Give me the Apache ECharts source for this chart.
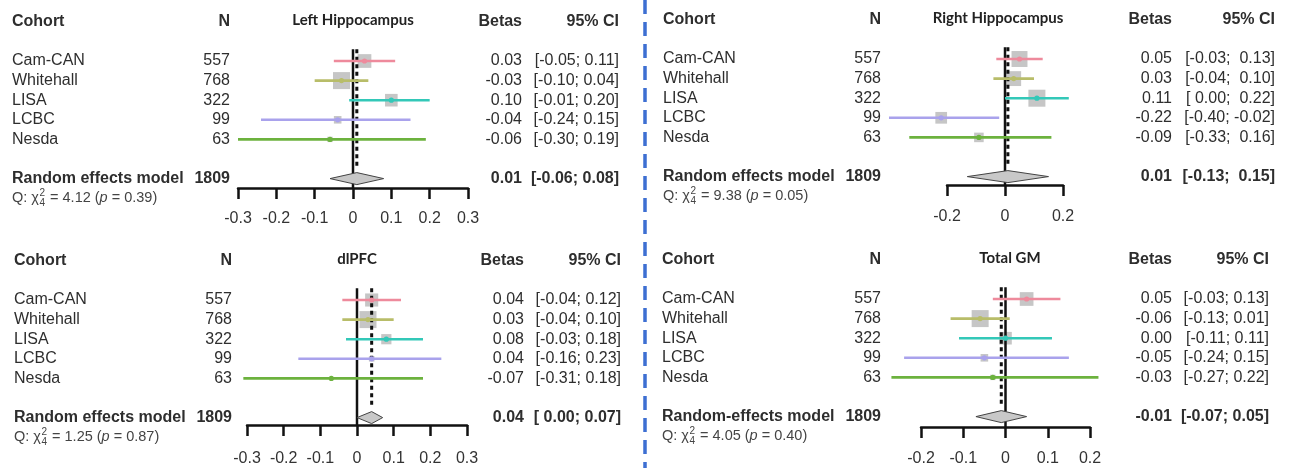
<!DOCTYPE html>
<html>
<head>
<meta charset="utf-8">
<title>Forest plots</title>
<script src="https://cdn.jsdelivr.net/npm/echarts@6/dist/echarts.min.js"></script>
<style>
  html, body { margin: 0; padding: 0; background: #fff; }
  #chart { width: 1291px; height: 468px; }
</style>
</head>
<body>
<div id="chart"></div>
<script>
const cohorts = ['Cam-CAN', 'Whitehall', 'LISA', 'LCBC', 'Nesda'];
const sampleSizes = [557, 768, 322, 99, 63];
const totalN = 1809;

// Left hippocampus
const leftHippoBeta = [0.03, -0.03, 0.10, -0.04, -0.06];
const leftHippoLow = [-0.05, -0.10, -0.01, -0.24, -0.30];
const leftHippoHigh = [0.11, 0.04, 0.20, 0.15, 0.19];
const leftHippoWeight = [26, 40, 22, 8, 4];
const leftHippoPooled = [0.01, -0.06, 0.08];
const leftHippoQ = [4.12, 0.39];
const leftHippoTicks = [-0.3, -0.2, -0.1, 0, 0.1, 0.2, 0.3];

// Right hippocampus
const rightHippoBeta = [0.05, 0.03, 0.11, -0.22, -0.09];
const rightHippoLow = [-0.03, -0.04, 0.00, -0.40, -0.33];
const rightHippoHigh = [0.13, 0.10, 0.22, -0.02, 0.16];
const rightHippoWeight = [25.6, 22.3, 29.1, 13.8, 9.2];
const rightHippoPooled = [0.01, -0.13, 0.15];
const rightHippoQ = [9.38, 0.05];
const rightHippoTicks = [-0.2, 0, 0.2];

// dlPFC
const dlpfcBeta = [0.04, 0.03, 0.08, 0.04, -0.07];
const dlpfcLow = [-0.04, -0.04, -0.03, -0.16, -0.31];
const dlpfcHigh = [0.12, 0.10, 0.18, 0.23, 0.18];
const dlpfcWeight = [28, 47, 17, 5, 2];
const dlpfcPooled = [0.04, 0.00, 0.07];
const dlpfcQ = [1.25, 0.87];
const dlpfcTicks = [-0.3, -0.2, -0.1, 0, 0.1, 0.2, 0.3];

// Total grey matter
const totalGmBeta = [0.05, -0.06, 0.00, -0.05, -0.03];
const totalGmLow = [-0.03, -0.13, -0.11, -0.24, -0.27];
const totalGmHigh = [0.13, 0.01, 0.11, 0.15, 0.22];
const totalGmWeight = [26, 40, 22, 8, 4];
const totalGmPooled = [-0.01, -0.07, 0.05];
const totalGmQ = [4.05, 0.40];
const totalGmTicks = [-0.2, -0.1, 0, 0.1, 0.2];

const cohortColors = ['#ee8a9c', '#b8bd69', '#33c8b8', '#a9a2ec', '#6cb23e'];
const FONT = '"Liberation Sans", Arial, sans-serif';
const TEXT = '#2e2e2e';
const PITCH = 19.6;
const MAX_SIDE = 17;

const panels = [
  { title: 'Left Hippocampus', model: 'Random effects model', beta: leftHippoBeta, low: leftHippoLow, high: leftHippoHigh,
    weight: leftHippoWeight, pooled: leftHippoPooled, q: leftHippoQ, ticks: leftHippoTicks,
    box: { axisL: 238, axisR: 468, y0: 61, axisY: 188, labelGap: 23, cohortX: 12, nX: 230, betaX: 522, ciX: 619, titleX: 353 } },
  { title: 'Right Hippocampus', model: 'Random effects model', beta: rightHippoBeta, low: rightHippoLow, high: rightHippoHigh,
    weight: rightHippoWeight, pooled: rightHippoPooled, q: rightHippoQ, ticks: rightHippoTicks,
    box: { axisL: 947, axisR: 1063, y0: 59, axisY: 185, labelGap: 24, cohortX: 663, nX: 881, betaX: 1172, ciX: 1275, titleX: 998 } },
  { title: 'dlPFC', model: 'Random effects model', beta: dlpfcBeta, low: dlpfcLow, high: dlpfcHigh,
    weight: dlpfcWeight, pooled: dlpfcPooled, q: dlpfcQ, ticks: dlpfcTicks,
    box: { axisL: 247, axisR: 467, y0: 300, axisY: 425, labelGap: 26, cohortX: 14, nX: 232, betaX: 524, ciX: 621, titleX: 357 } },
  { title: 'Total GM', model: 'Random-effects model', beta: totalGmBeta, low: totalGmLow, high: totalGmHigh,
    weight: totalGmWeight, pooled: totalGmPooled, q: totalGmQ, ticks: totalGmTicks,
    box: { axisL: 921, axisR: 1090, y0: 299, axisY: 427, labelGap: 24, cohortX: 662, nX: 881, betaX: 1172, ciX: 1269, titleX: 1010 } },
];

const measureCtx = document.createElement('canvas').getContext('2d');
function textWidth(str, font) {
  measureCtx.font = font;
  return measureCtx.measureText(str).width;
}

function fmt(v) {
  return Math.abs(v) < 0.005 ? '0.00' : v.toFixed(2);
}

// R pads non-negative numbers with a space when the column holds negatives
function ciStrings(low, high) {
  const padL = low.some(v => v < 0);
  const padH = high.some(v => v < 0);
  return low.map((l, i) =>
    '[' + (padL && l >= 0 ? ' ' : '') + fmt(l) + '; ' + (padH && high[i] >= 0 ? ' ' : '') + fmt(high[i]) + ']');
}

function txt(x, y, text, font, align, fill) {
  return {
    type: 'text', x: x, y: y,
    style: { text: text, font: font, fill: fill || TEXT, align: align, textAlign: align, verticalAlign: 'middle', textVerticalAlign: 'middle' }
  };
}

const grids = [], xAxes = [], yAxes = [], series = [];

panels.forEach((p, k) => {
  const b = p.box;
  const top = b.y0 - 0.6 * PITCH;
  const ticks = p.ticks;
  const cis = ciStrings(p.low.concat([p.pooled[1]]), p.high.concat([p.pooled[2]]));
  const wMax = Math.max.apply(null, p.weight);

  grids.push({ left: b.axisL, top: top, width: b.axisR - b.axisL, height: b.axisY - top });
  xAxes.push({
    gridIndex: k, type: 'value', position: 'bottom',
    min: ticks[0], max: ticks[ticks.length - 1], interval: ticks[1] - ticks[0],
    axisLine: { onZero: false, lineStyle: { color: '#111', width: 2.5 } },
    axisTick: { show: true, inside: false, length: 11, lineStyle: { color: '#111', width: 2.5 } },
    axisLabel: { margin: b.labelGap, fontSize: 16, color: '#333', fontFamily: FONT,
      formatter: v => String(Math.round(v * 10) / 10) },
    splitLine: { show: false }
  });
  yAxes.push({ gridIndex: k, type: 'value', inverse: true, min: 0.4, max: 0.4 + (b.axisY - top) / PITCH, show: false });

  // weight squares
  series.push({
    type: 'custom', xAxisIndex: k, yAxisIndex: k, z: 2, silent: true,
    data: p.beta.map((v, i) => [v, i + 1, p.weight[i]]),
    renderItem: (params, api) => {
      const c = api.coord([api.value(0), api.value(1)]);
      const s = MAX_SIDE * Math.sqrt(api.value(2) / wMax);
      return { type: 'rect', shape: { x: c[0] - s / 2, y: c[1] - s / 2, width: s, height: s }, style: { fill: '#c6c6c6' } };
    }
  });

  // reference lines, pooled diamond, headers and footer
  series.push({
    type: 'custom', xAxisIndex: k, yAxisIndex: k, z: 3, silent: true,
    data: [p.pooled],
    renderItem: (params, api) => {
      const est = api.value(0), lo = api.value(1), hi = api.value(2);
      const zTop = api.coord([0, 0.4]), zBot = api.coord([0, yAxes[k].max]);
      const dTop = api.coord([est, 0.4]), dBot = api.coord([est, 6.5]);
      const mid = api.coord([est, 7]), left = api.coord([lo, 7]), right = api.coord([hi, 7]);
      const hy = api.coord([0, -1])[1];
      const py = mid[1];
      const qy = api.coord([0, 8])[1];
      const bold = 'bold 16px ' + FONT;
      const small = '14.5px ' + FONT;
      const tiny = '10px ' + FONT;

      const qParts = [];
      let qx = b.cohortX;
      const q1 = 'Q: \u03c7';
      qParts.push(txt(qx, qy, q1, small, 'left', '#444'));
      qx += textWidth(q1, small) + 0.5;
      qParts.push(txt(qx, qy - 4.5, '2', tiny, 'left', '#444'));
      qParts.push(txt(qx, qy + 5.5, '4', tiny, 'left', '#444'));
      qx += textWidth('2', tiny) + 1;
      const q2 = ' = ' + p.q[0].toFixed(2) + ' (';
      qParts.push(txt(qx, qy, q2, small, 'left', '#444'));
      qx += textWidth(q2, small);
      qParts.push(txt(qx, qy, 'p', 'italic ' + small, 'left', '#444'));
      qx += textWidth('p', 'italic ' + small);
      qParts.push(txt(qx, qy, ' = ' + p.q[1].toFixed(2) + ')', small, 'left', '#444'));

      return {
        type: 'group',
        children: [
          { type: 'line', shape: { x1: zTop[0], y1: zTop[1], x2: zBot[0], y2: zBot[1] }, style: { stroke: '#111', lineWidth: 2.5 } },
          { type: 'line', shape: { x1: dTop[0], y1: dTop[1], x2: dBot[0], y2: dBot[1] }, style: { stroke: '#111', lineWidth: 3, lineDash: [4, 3.5] } },
          { type: 'polygon', shape: { points: [[left[0], py], [mid[0], py - 6], [right[0], py], [mid[0], py + 6]] },
            style: { fill: '#c8c8c8', stroke: '#444', lineWidth: 1 } },
          txt(b.cohortX, hy, 'Cohort', bold, 'left'),
          txt(b.nX, hy, 'N', bold, 'right'),
          txt(b.titleX, hy - 2, p.title, 'bold 15px Lato, ' + FONT, 'center', '#222'),
          txt(b.betaX, hy, 'Betas', bold, 'right'),
          txt(b.ciX, hy, '95% CI', bold, 'right'),
          txt(b.cohortX, py, p.model, bold, 'left'),
          txt(b.nX, py, String(totalN), bold, 'right'),
          txt(b.betaX, py, fmt(est), bold, 'right'),
          txt(b.ciX, py, cis[cis.length - 1], bold, 'right')
        ].concat(qParts)
      };
    }
  });

  // study confidence intervals and row text
  series.push({
    type: 'custom', xAxisIndex: k, yAxisIndex: k, z: 4, silent: true,
    data: p.beta.map((v, i) => [v, p.low[i], p.high[i], i + 1]),
    renderItem: (params, api) => {
      const i = params.dataIndex;
      const row = api.value(3);
      const c = api.coord([api.value(0), row]);
      const l = api.coord([api.value(1), row]);
      const h = api.coord([api.value(2), row]);
      const col = cohortColors[i];
      const reg = '16px ' + FONT;
      return {
        type: 'group',
        children: [
          { type: 'line', shape: { x1: l[0], y1: c[1], x2: h[0], y2: c[1] }, style: { stroke: col, lineWidth: 2.6 } },
          { type: 'circle', shape: { cx: c[0], cy: c[1], r: 2.6 }, style: { fill: col } },
          txt(b.cohortX, c[1], cohorts[i], reg, 'left'),
          txt(b.nX, c[1], String(sampleSizes[i]), reg, 'right'),
          txt(b.betaX, c[1], fmt(api.value(0)), reg, 'right'),
          txt(b.ciX, c[1], cis[i], reg, 'right')
        ]
      };
    }
  });
});

const chart = echarts.init(document.getElementById('chart'));
chart.setOption({
  backgroundColor: '#fff',
  animation: false,
  grid: grids,
  xAxis: xAxes,
  yAxis: yAxes,
  series: series,
  graphic: [{
    type: 'line', silent: true,
    shape: { x1: 645, y1: 0, x2: 645, y2: 468 },
    style: { stroke: '#3d6fd2', lineWidth: 3.5, lineDash: [14, 8] }
  }]
});
window.addEventListener('resize', () => chart.resize());
</script>
</body>
</html>
